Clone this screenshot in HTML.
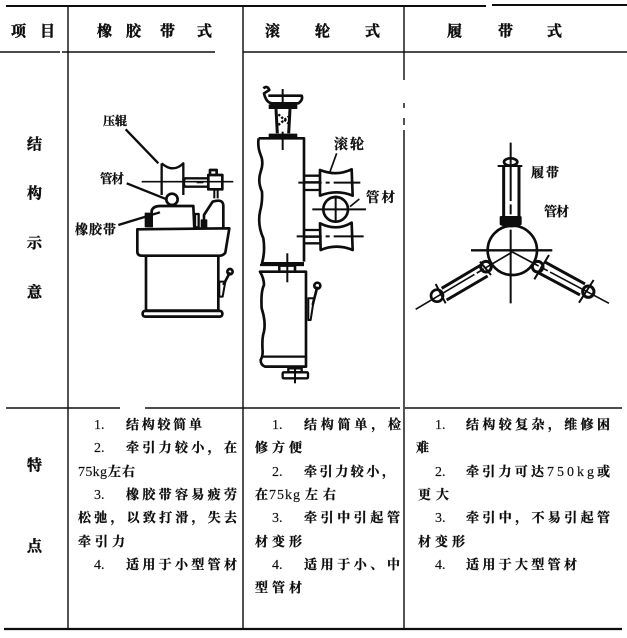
<!DOCTYPE html>
<html><head><meta charset="utf-8">
<style>
html,body{margin:0;padding:0;background:#fff;width:627px;height:638px;overflow:hidden}
svg{display:block}
text{font-family:"Liberation Serif","Noto Serif CJK SC",serif;fill:#111;font-weight:700;stroke:#111;stroke-width:.3px}
.b{font-size:13px}
.h{font-size:15px;stroke-width:.45px}
.d{font-size:14px;font-weight:400;stroke-width:.15px}
</style></head><body>
<svg width="627" height="638" viewBox="0 0 627 638" xmlns="http://www.w3.org/2000/svg">
<defs><filter id="s" x="-5%" y="-5%" width="110%" height="110%"><feGaussianBlur stdDeviation="0.3"/></filter></defs>
<g filter="url(#s)">
<!-- table lines -->
<g stroke="#111" fill="none">
<path d="M6 6H486M492 5H627" stroke-width="2"/>
<path d="M0 52H60M62 52H215M243 52H405M405 52H627" stroke-width="1.4"/>
<path d="M6 408H120M145 408H243M243 408H400M405 408H622" stroke-width="1.4"/>
<path d="M4 629H622" stroke-width="2.2"/>
<path d="M68 6V629" stroke-width="1.4"/>
<path d="M243 6V629" stroke-width="1.4"/>
<path d="M404 6V80M404 103V108M404 118V125M404 130V629" stroke-width="1.4"/>
</g>
<!-- header -->
<text class="h" x="11" y="36">项</text><text class="h" x="40" y="36">目</text>
<text class="h" x="97" y="36">橡</text><text class="h" x="126" y="36">胶</text><text class="h" x="160" y="36">带</text><text class="h" x="197" y="36">式</text>
<text class="h" x="265" y="36">滚</text><text class="h" x="315" y="36">轮</text><text class="h" x="365" y="36">式</text>
<text class="h" x="447" y="36">履</text><text class="h" x="498" y="36">带</text><text class="h" x="547" y="36">式</text>
<!-- left col -->
<text class="h" x="27" y="149">结</text>
<text class="h" x="27" y="198">构</text>
<text class="h" x="27" y="248">示</text>
<text class="h" x="27" y="297">意</text>
<text class="h" x="27" y="470">特</text>
<text class="h" x="27" y="551">点</text>
<!-- col 1 text -->
<text class="d" x="94" y="429">1.</text><text class="b" x="126" y="429" textLength="76" lengthAdjust="spacing">结构较简单</text>
<text class="d" x="94" y="452">2.</text><text class="b" x="126" y="452" textLength="111" lengthAdjust="spacing">牵引力较小，在</text>
<text class="d" x="78" y="476" textLength="29" lengthAdjust="spacing">75kg</text><text class="b" x="108" y="476" textLength="27" lengthAdjust="spacing">左右</text>
<text class="d" x="94" y="499">3.</text><text class="b" x="126" y="499" textLength="111" lengthAdjust="spacing">橡胶带容易疲劳</text>
<text class="b" x="78" y="522" textLength="159" lengthAdjust="spacing">松弛，以致打滑，失去</text>
<text class="b" x="78" y="546" textLength="47" lengthAdjust="spacing">牵引力</text>
<text class="d" x="94" y="569">4.</text><text class="b" x="126" y="569" textLength="111" lengthAdjust="spacing">适用于小型管材</text>
<!-- col 2 -->
<text class="d" x="272" y="429">1.</text><text class="b" x="304" y="429" textLength="97" lengthAdjust="spacing">结构简单，检</text>
<text class="b" x="255" y="452" textLength="47" lengthAdjust="spacing">修方便</text>
<text class="d" x="272" y="476">2.</text><text class="b" x="304" y="476" textLength="91" lengthAdjust="spacing">牵引力较小，</text>
<text class="b" x="255" y="499">在</text><text class="d" x="269" y="499" textLength="31" lengthAdjust="spacing">75kg</text><text class="b" x="305" y="499" textLength="31" lengthAdjust="spacing">左右</text>
<text class="d" x="272" y="522">3.</text><text class="b" x="304" y="522" textLength="96" lengthAdjust="spacing">牵引中引起管</text>
<text class="b" x="255" y="546" textLength="47" lengthAdjust="spacing">材变形</text>
<text class="d" x="272" y="569">4.</text><text class="b" x="304" y="569" textLength="96" lengthAdjust="spacing">适用于小、中</text>
<text class="b" x="255" y="592" textLength="47" lengthAdjust="spacing">型管材</text>
<!-- col 3 -->
<text class="d" x="435" y="429">1.</text><text class="b" x="466" y="429" textLength="144" lengthAdjust="spacing">结构较复杂，维修困</text>
<text class="b" x="416" y="452">难</text>
<text class="d" x="435" y="476">2.</text><text class="b" x="466" y="476" textLength="78" lengthAdjust="spacing">牵引力可达</text><text class="d" x="547" y="476" textLength="47" lengthAdjust="spacing">750kg</text><text class="b" x="597" y="476">或</text>
<text class="b" x="418" y="499" textLength="31" lengthAdjust="spacing">更大</text>
<text class="d" x="435" y="522">3.</text><text class="b" x="466" y="522" textLength="144" lengthAdjust="spacing">牵引中，不易引起管</text>
<text class="b" x="418" y="546" textLength="47" lengthAdjust="spacing">材变形</text>
<text class="d" x="435" y="569">4.</text><text class="b" x="466" y="569" textLength="111" lengthAdjust="spacing">适用于大型管材</text>

<!-- drawing 1 -->
<g transform="translate(60 80) scale(.3333)" fill="none" stroke="#0c0c0c" stroke-width="7" stroke-linejoin="round">
<path d="M197 148L295 250"/>
<path d="M305 250Q340 280 370 250L370 345M305 250V345"/>
<path d="M245 305H520" stroke-width="5"/>
<path d="M375 295H445V320H375Q368 308 375 295Z"/>
<path d="M410 307H430" stroke-width="6"/>
<path d="M445 285H487V328H445Z" stroke-width="8"/>
<path d="M450 283V270H470V283" stroke-width="8"/>
<path d="M200 310L320 358"/>
<circle cx="336" cy="358" r="17" fill="#fff" stroke-width="8"/>
<path d="M275 442V392Q280 378 300 378H400L403 445" stroke-width="8"/>
<path d="M175 435L300 397" stroke-width="7"/>
<path d="M256 400H272V440H256Z" fill="#111" stroke-width="4"/>
<path d="M405 402H416V442H405Z" stroke-width="7"/>
<path d="M424 420H440V442H424Z" fill="#111" stroke-width="4"/>
<path d="M432 442V405L458 365Q490 355 490 378V442" stroke-width="8"/>
<path d="M463 328V355M473 328V355" stroke-width="6"/>
<path d="M232 448L508 445L496 518Q490 527 480 527H245Q232 527 232 515Z" stroke-width="8"/>
<path d="M258 527V692H475V527" stroke-width="8"/>
<rect x="248" y="693" width="239" height="17" rx="7" stroke-width="8"/>
<path d="M478 605H496L488 650H478Z" stroke-width="6"/>
<path d="M490 615L510 577" stroke-width="8"/>
<circle cx="510" cy="575" r="8" stroke-width="8"/>
</g>
<text x="103" y="125" font-size="12">压辊</text>
<text x="100" y="183" font-size="12.5" textLength="24" lengthAdjust="spacing">管材</text>
<text x="75" y="234" font-size="13" textLength="41" lengthAdjust="spacing">橡胶带</text>

<!-- drawing 2 -->
<g transform="translate(240 75) scale(.3333)" fill="none" stroke="#0c0c0c" stroke-width="8" stroke-linejoin="round">
<path d="M70 40Q82 30 88 45L72 55Q78 82 95 85H175Q190 75 185 62H85"/>
<path d="M128 42V100" stroke-width="6"/>
<path d="M88 90H170V100H88Z" fill="#111" stroke-width="4"/>
<path d="M108 102L112 175M150 102L146 175" stroke-width="9"/>
<path d="M115 118L145 145M115 150L145 125" stroke-width="7" stroke-dasharray="7 5"/>
<path d="M88 178H170V190H88Z" fill="#111" stroke-width="4"/>
<path d="M128 170V225" stroke-width="6"/>
<path d="M56 190H192V560M56 190Q52 215 62 240Q72 262 62 290Q52 320 66 350Q68 380 60 410Q52 450 70 490Q76 530 66 565H192"/>
<path d="M192 302H240M192 322H240M192 345H240" stroke-width="7"/>
<path d="M175 323H375" stroke-width="6" stroke-dasharray="70 12 12 12 80"/>
<path d="M240 285Q290 305 335 283L338 362Q290 342 240 362Z" stroke-width="8"/>
<path d="M290 235L270 290" stroke-width="5"/>
<circle cx="287" cy="403" r="37"/>
<path d="M217 403H378M287 362V440" stroke-width="6"/>
<path d="M330 395L358 372" stroke-width="5"/>
<path d="M192 465H240M192 485H240M192 505H240" stroke-width="7"/>
<path d="M170 484H392" stroke-width="6" stroke-dasharray="75 12 12 12 90"/>
<path d="M240 445Q290 470 335 443L338 525Q290 505 242 525Z" stroke-width="8"/>
<path d="M60 570H192M118 565V590M165 565V590M60 590H118" stroke-width="7"/>
<path d="M142 535V622" stroke-width="6"/>
<path d="M118 572H165V590H118Z" stroke-width="7"/>
<path d="M60 590H198V875H75Q62 870 62 855Q68 845 68 830Q65 790 72 770Q78 740 65 700Q62 650 72 630Q72 610 60 590Z"/>
<path d="M68 845H200" stroke-width="7"/>
<path d="M205 670H222L212 735H205Z" stroke-width="6"/>
<path d="M218 690L232 635" stroke-width="8"/>
<circle cx="232" cy="632" r="9" stroke-width="8"/>
<path d="M165 872V925" stroke-width="6"/>
<rect x="128" y="892" width="76" height="18" rx="3" stroke-width="7"/>
<path d="M145 880H185V892H145Z" stroke-width="7"/>
</g>
<text x="334" y="149" font-size="14" textLength="30" lengthAdjust="spacing">滚轮</text>
<text x="366" y="202" font-size="13.5" textLength="29" lengthAdjust="spacing">管材</text>

<!-- drawing 3 -->
<g transform="translate(405 140) scale(.3333)" fill="none" stroke="#0c0c0c" stroke-width="8" stroke-linejoin="round">
<path d="M317 8V490" stroke-width="6" stroke-dasharray="175 10 30 8 30 8 500"/>
<path d="M198 331H442" stroke-width="7"/>
<circle cx="322" cy="331" r="74"/>
<!-- top track -->
<path d="M296 78V232M342 78V232" stroke-width="9"/>
<path d="M278 78H352" stroke-width="6"/>
<ellipse cx="317" cy="66" rx="20" ry="11"/>
<path d="M288 232H346V252L325 258H305L288 252Z" fill="#111"/>
<!-- left track -->
<path d="M32 508L322 336" stroke-width="5" stroke-dasharray="205 8 25 6 400"/>
<path d="M110 445L228 375M125 480L248 408" stroke-width="9"/>
<circle cx="96" cy="467" r="18"/>
<path d="M92 432L122 490" stroke-width="6"/>
<circle cx="243" cy="380" r="16" stroke-width="9"/>
<path d="M225 365L258 405" stroke-width="6"/>
<!-- right track -->
<path d="M612 490L322 336" stroke-width="5" stroke-dasharray="200 8 25 6 400"/>
<path d="M418 365L540 432M400 398L525 465" stroke-width="9"/>
<circle cx="398" cy="380" r="16" stroke-width="9"/>
<path d="M432 345L388 418" stroke-width="6"/>
<circle cx="550" cy="455" r="17" stroke-width="9"/>
<path d="M566 420L522 488" stroke-width="6"/>
</g>
<text x="531" y="177" font-size="13" textLength="28" lengthAdjust="spacing">履带</text>
<text x="544" y="216" font-size="13" textLength="25" lengthAdjust="spacing">管材</text>
</g>
</svg>
</body></html>
